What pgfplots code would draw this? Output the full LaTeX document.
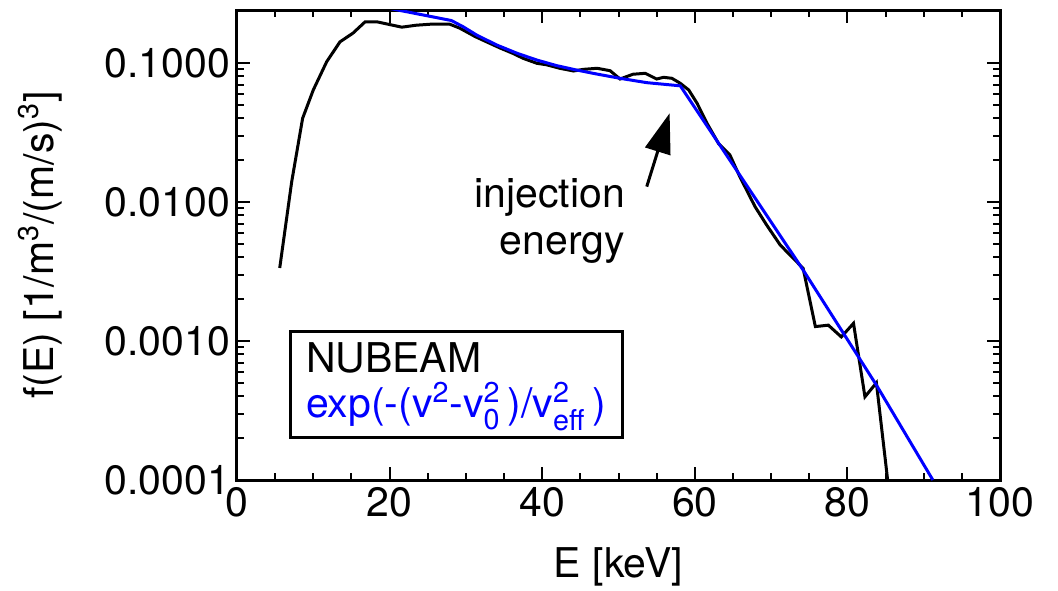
\documentclass[border=0pt]{standalone}
\usepackage{amsmath}
\usepackage{pgfplots}
\pgfplotsset{compat=1.18}
\usepackage{fontspec}
\setmainfont{TeX Gyre Heros}
\usetikzlibrary{arrows.meta}
\definecolor{fitblue}{RGB}{0,0,255}
\begin{document}
\begin{tikzpicture}
\path[use as bounding box] (-118.5pt,-55pt) rectangle (410.5pt,240pt);
\begin{axis}[
  name=ax, at={(0,0)}, anchor=south west,
  scale only axis, width=381.5pt, height=235pt,
  xmin=0, xmax=100, ymode=log, ymin=1e-4, ymax=0.2405,
  xtick={0,20,40,60,80,100}, xticklabels={0,20,40,60,80,100},
  minor x tick num=3,
  ytick={1e-4,1e-3,1e-2,1e-1}, yticklabels={0.0001,0.0010,0.0100,0.1000},
  axis line style={line width=1.5pt},
  every tick/.style={black, line width=1pt},
  major tick length=6.5pt, minor tick length=3.5pt,
  tick label style={font=\fontsize{20.5}{24}\selectfont},
  label style={font=\fontsize{20.5}{24}\selectfont},
  xlabel={E [keV]}, ylabel={f(E) [1/m\textsuperscript{3}/(m/s)\textsuperscript{3}]},
  xlabel style={at={(axis description cs:0.5,-0.185)}, anchor=center},
  ylabel style={at={(axis description cs:-0.258,0.5)}, anchor=center},
  clip=true,
]
\addplot[black, line width=1.5pt] coordinates {
(5.6,0.00335) (7.17,0.014) (8.6,0.040) (10.0,0.064) (11.75,0.102) (13.5,0.142)
(15.2,0.164) (16.8,0.198) (18.3,0.198) (21.6,0.181) (23.5,0.187) (25.3,0.19)
(27.9,0.19) (29.2,0.178) (31.2,0.155) (32.7,0.142) (34.5,0.128) (36.2,0.117)
(37.5,0.108) (39.3,0.0995) (40.6,0.097) (42.3,0.0916) (44.1,0.0876) (45.4,0.090)
(47.2,0.0916) (48.9,0.088) (50.2,0.0767) (51.9,0.083) (53.5,0.0843) (55.0,0.0767)
(55.9,0.0789) (57.0,0.0776) (58.1,0.0714) (59.2,0.064) (60.3,0.0513) (61.6,0.0368)
(63.1,0.0264) (64.6,0.0218) (65.9,0.0152) (67.9,0.00925) (69.4,0.00685) (71.2,0.0049)
(72.7,0.00404) (74.2,0.00333) (75.8,0.00127) (77.5,0.0013) (79.2,0.00107) (80.8,0.00134)
(82.3,0.000397) (83.8,0.0005) (85.6,0.00007)
};
\addplot[fitblue, line width=1.5pt] coordinates {
(20.0,0.247) (28.1,0.202) (29.66,0.182) (31.4,0.159) (34.0,0.135) (36.7,0.1175)
(39.3,0.105) (41.9,0.0957) (44.5,0.089) (47.1,0.0834) (50.2,0.0776) (53.7,0.0722)
(58.1,0.0685) (65.9,0.0156) (74.2,0.00324) (83.8,0.000482) (91.2,0.0001)
};
\draw[line width=1.5pt, -{Triangle[length=20pt,width=13pt]}] (axis cs:53.7,0.0129) -- (axis cs:56.7,0.0435);
\node[anchor=north east, align=right, inner sep=0pt, font=\fontsize{20.5}{23.5}\selectfont] at (axis cs:50.9,0.0149) {injection\\energy};
\draw[line width=1.5pt] (rel axis cs:0.0695,0.0915) rectangle (rel axis cs:0.5046,0.315);
\node[anchor=north west, align=left, inner sep=0pt, font=\fontsize{20.5}{22.5}\selectfont] at (rel axis cs:0.09,0.293)
  {NUBEAM\\\textcolor{fitblue}{exp(-($\text{v}^{\text{2}}$-$\text{v}^{\text{2}}_{\text{0}}$\,)/$\text{v}^{\text{2}}_{\text{eff}}$\,)}};
\end{axis}
\end{tikzpicture}
\end{document}
